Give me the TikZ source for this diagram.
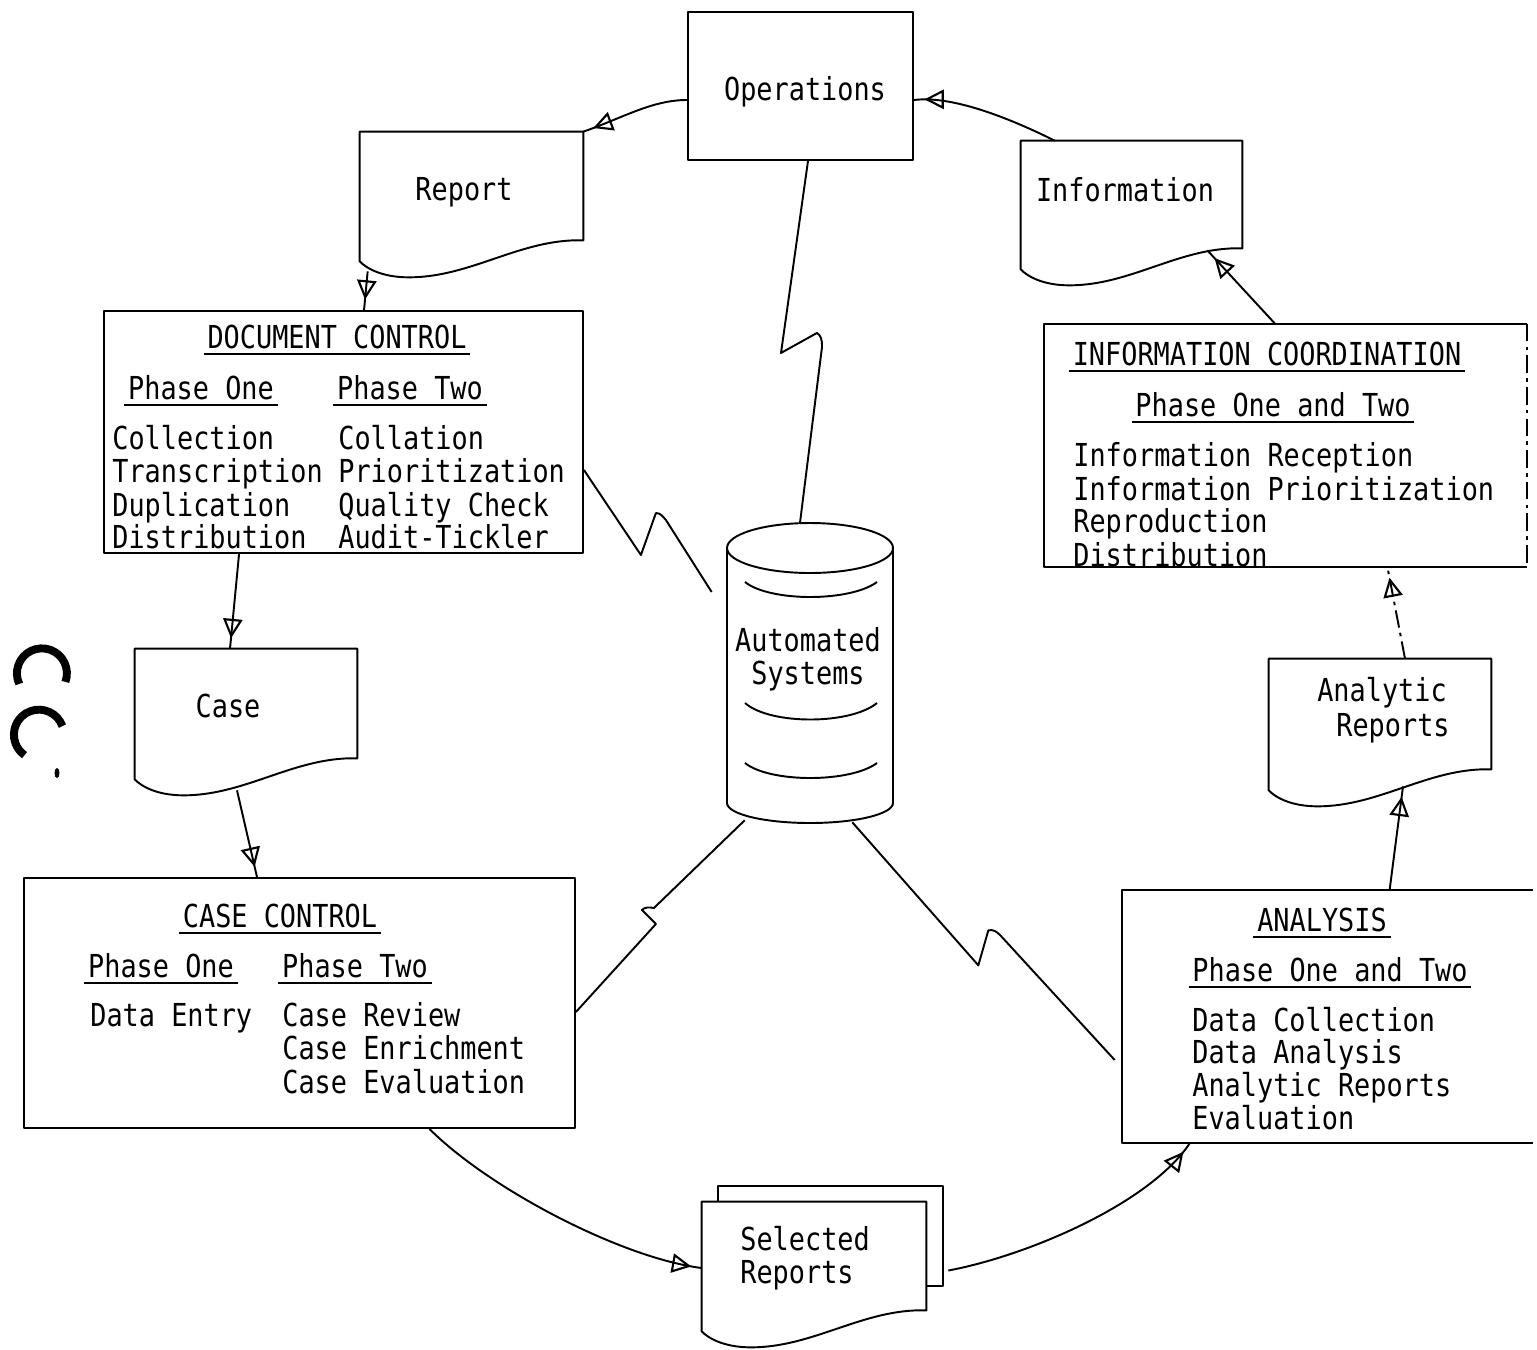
\documentclass[tikz,border=0pt]{standalone}
\usepackage{fontspec}
\newfontfamily\plotfont[FakeStretch=0.85]{DejaVu Sans Mono}
\usetikzlibrary{arrows.meta,calc,decorations.markings}

\tikzset{
  ln/.style={line width=1.1pt, line join=round},
  box/.style={ln, draw, rectangle, inner sep=0pt},
  area/.style={rectangle, inner sep=0pt},
  txt/.style={inner sep=0pt, font=\plotfont\fontsize{18}{21}\selectfont},
  ul/.style={line width=0.9pt},
  flow/.style={ln, decoration={markings,
      mark=at position -6pt with {\arrow{Triangle[open, length=11pt, width=11pt, line width=1.2pt]}}},
      postaction={decorate}},
  link/.style={ln},
  faded/.style={ln, dash pattern=on 10pt off 3pt on 2pt off 3pt},
}

% page outline with a wavy lower edge, built on a node's bounding box
\newcommand\docoutline[1]{%
  \draw[ln] (#1.north west) -- (#1.north east) -- ([yshift=0.74cm]#1.south east)
    .. controls ($([yshift=0.78cm]#1.south east)!0.28!([yshift=0.78cm]#1.south west)$)
       and ($(#1.south west)!0.5!(#1.south east)$)
    .. ($(#1.south west)!0.22!(#1.south east)$)
    .. controls ($(#1.south west)!0.1!(#1.south east)$)
       and ($([yshift=0.18cm]#1.south west)!0.03!([yshift=0.18cm]#1.south east)$)
    .. ([yshift=0.32cm]#1.south west) -- cycle;}

% underline a heading node
\newcommand\ulnode[1]{%
  \draw[ul] ([shift={(-2pt,-3pt)}]#1.base west) -- ([shift={(2pt,-3pt)}]#1.base east);}

\begin{document}
\begin{tikzpicture}[x=0.02cm, y=-0.02cm]
\fill[white] (0,0) rectangle (1537,1349);
\useasboundingbox (0,0) rectangle (1537,1349);

% ---------- Operations ----------
\node[box, minimum width=4.5cm, minimum height=2.96cm] (ops) at (800.5,86) {};
\node[txt, anchor=base] (opsT) at (805,100.5) {Operations};

% ---------- Report ----------
\node[area, minimum width=4.46cm, minimum height=2.9cm] (rep) at (471.5,204.5) {};
\docoutline{rep}
\node[txt, anchor=base] (repT) at (464,200.5) {Report};

% ---------- Information ----------
\node[area, minimum width=4.42cm, minimum height=2.88cm] (info) at (1131.5,213) {};
\docoutline{info}
\node[txt, anchor=base] (infoT) at (1125,201.5) {Information};

% ---------- Document control ----------
\node[box, minimum width=9.58cm, minimum height=4.84cm] (dc) at (343.5,432) {};
\node[txt, anchor=base] (dcT) at (337,348.5) {DOCUMENT CONTROL};
\node[txt, anchor=base] (dcA) at (201,399.5) {Phase One};
\node[txt, anchor=base] (dcB) at (410,399.5) {Phase Two};
\ulnode{dcT}\ulnode{dcA}\ulnode{dcB}
\node[txt, anchor=base west] (dc1) at (112,449.5) {Collection};
\node[txt, anchor=base west] (dc2) at (112,482.5) {Transcription};
\node[txt, anchor=base west] (dc3) at (112,516.5) {Duplication};
\node[txt, anchor=base west] (dc4) at (112,548.5) {Distribution};
\node[txt, anchor=base west] (dc5) at (338,449.5) {Collation};
\node[txt, anchor=base west] (dc6) at (338,482.5) {Prioritization};
\node[txt, anchor=base west] (dc7) at (338,516.5) {Quality Check};
\node[txt, anchor=base west] (dc8) at (338,548.5) {Audit-Tickler};

% ---------- Case ----------
\node[area, minimum width=4.44cm, minimum height=2.92cm] (case) at (246,722) {};
\docoutline{case}
\node[txt, anchor=base] (caseT) at (228,717.5) {Case};

% ---------- Case control ----------
\node[box, minimum width=11.02cm, minimum height=5cm] (cc) at (299.5,1003) {};
\node[txt, anchor=base] (ccT) at (280,927.5) {CASE CONTROL};
\node[txt, anchor=base] (ccA) at (161,977.5) {Phase One};
\node[txt, anchor=base] (ccB) at (355,977.5) {Phase Two};
\ulnode{ccT}\ulnode{ccA}\ulnode{ccB}
\node[txt, anchor=base west] (cc1) at (90,1026.5) {Data Entry};
\node[txt, anchor=base west] (cc2) at (282,1026.5) {Case Review};
\node[txt, anchor=base west] (cc3) at (282,1059.5) {Case Enrichment};
\node[txt, anchor=base west] (cc4) at (282,1093.5) {Case Evaluation};

% ---------- Selected reports (two stacked pages) ----------
\node[area, minimum width=4.48cm, minimum height=2.9cm] (sel) at (814,1274.5) {};
\draw[ln] ([xshift=0.32cm]sel.north west) -- ++(0,-16) -- ++(225,0) -- ++(0,100) -- ++(-17,0);
\docoutline{sel}
\node[txt, anchor=base west] (selA) at (740,1250.5) {Selected};
\node[txt, anchor=base west] (selB) at (740,1283.5) {Reports};

% ---------- Analysis (open on the right) ----------
\node[area, minimum width=8.22cm, minimum height=5.06cm] (ana) at (1327.5,1016.5) {};
\draw[ln] (ana.north east) -- (ana.north west) -- (ana.south west) -- (ana.south east);
\node[txt, anchor=base] (anaT) at (1322,931.5) {ANALYSIS};
\node[txt, anchor=base] (anaA) at (1330,981.5) {Phase One and Two};
\ulnode{anaT}\ulnode{anaA}
\node[txt, anchor=base west] (ana1) at (1192,1031.5) {Data Collection};
\node[txt, anchor=base west] (ana2) at (1192,1063.5) {Data Analysis};
\node[txt, anchor=base west] (ana3) at (1192,1096.5) {Analytic Reports};
\node[txt, anchor=base west] (ana4) at (1192,1129.5) {Evaluation};

% ---------- Analytic reports ----------
\node[area, minimum width=4.44cm, minimum height=2.94cm] (ar) at (1380,732.5) {};
\docoutline{ar}
\node[txt, anchor=base] (arA) at (1382,701.5) {Analytic};
\node[txt, anchor=base] (arB) at (1393,736.5) {Reports};

% ---------- Information coordination ----------
\node[area, minimum width=9.66cm, minimum height=4.86cm] (ic) at (1285.5,445.5) {};
\draw[ln] (ic.north east) -- (ic.north west) -- (ic.south west) -- (ic.south east);
\draw[faded] (ic.north east) -- (ic.south east);
\node[txt, anchor=base] (icT) at (1267,365.5) {INFORMATION COORDINATION};
\node[txt, anchor=base] (icA) at (1273,416.5) {Phase One and Two};
\ulnode{icT}\ulnode{icA}
\node[txt, anchor=base west] (ic1) at (1073,466.5) {Information Reception};
\node[txt, anchor=base west] (ic2) at (1073,500.5) {Information Prioritization};
\node[txt, anchor=base west] (ic3) at (1073,532.5) {Reproduction};
\node[txt, anchor=base west] (ic4) at (1073,566.5) {Distribution};

% ---------- Automated systems (drum) ----------
\node[area, minimum width=3.32cm, minimum height=6cm] (cyl) at (810,673) {};
\draw[ln] (810,548) ellipse [x radius=1.66cm, y radius=0.5cm];
\draw[ln] (727,548) -- (727,803) arc[start angle=180, end angle=360, x radius=1.66cm, y radius=0.4cm] -- (893,548);
\draw[ln] (745,582) .. controls (770,602) and (850,602) .. (877,582);
\draw[ln] (745,703) .. controls (770,725) and (850,725) .. (877,703);
\draw[ln] (745,763) .. controls (770,783) and (850,783) .. (877,763);
\node[txt, anchor=base] (cylA) at (808,651.5) {Automated};
\node[txt, anchor=base] (cylB) at (808,684.5) {Systems};

% ---------- flow around the cycle ----------
\draw[flow] ([yshift=-0.28cm]ops.west) .. controls +(-35,0) and +(40,-14) .. (rep.north east);
\draw[flow] ([shift={(8,-6)}]rep.south west) -- ([xshift=5.22cm]dc.north west);
\draw[flow] ([xshift=2.72cm]dc.south west) -- ([xshift=-0.32cm]case.north);
\draw[flow] ([shift={(-9,-5)}]case.south) -- ([xshift=-0.85cm]cc.north);
\draw[flow] ([xshift=2.6cm]cc.south) .. controls +(60,60) and +(-80,-10) .. ([yshift=0.13cm]sel.west);
\draw[flow] ([shift={(22,-4)}]sel.east) .. controls +(80,-15) and +(-40,60) .. ([xshift=1.36cm]ana.south west);
\draw[flow] ([xshift=5.36cm]ana.north west) -- ([shift={(23,-20)}]ar.south);
\draw[flow, dash pattern=on 10pt off 3pt on 2pt off 3pt] ([xshift=0.5cm]ar.north) -- ([xshift=2.04cm]ic.south);
\draw[flow] ([xshift=-0.21cm]ic.north) -- ([shift={(-35,-35)}]info.south east);
\draw[flow] ([xshift=0.68cm]info.north west) .. controls +(-40,-20) and +(40,-5) .. ([yshift=-0.28cm]ops.east);

% ---------- communication links to the drum ----------
\draw[link] ([xshift=0.15cm]ops.south) -- ++(-27,192) -- ++(36,-20)
  .. controls +(4,3) and +(0,-8) .. ++(5,14) -- ([xshift=-0.2cm]cyl.north);
\draw[link] ([yshift=-0.76cm]dc.east) -- ++(57,85) -- ++(15,-42)
  .. controls +(5,0) and +(-3,-3) .. ++(10,7) -- ([shift={(-15,-81)}]cyl.west);
\draw[link] ([yshift=-0.18cm]cc.east) -- ++(80,-88) -- ++(-14,-14)
  .. controls +(3,-3) and +(-5,-1) .. ++(12,-2) -- ([shift={(18,-3)}]cyl.south west);
\draw[link] ([shift={(-41,-1)}]cyl.south east) -- ++(126,143) -- ++(10,-35)
  .. controls +(5,-1) and +(-4,-4) .. ++(12,5) -- ([shift={(-7,43.5)}]ana.west);

% ---------- binder-hole marks at the left margin ----------
\draw[line width=4.5pt] (65.4,681.9) arc[start angle=-20, end angle=205, radius=0.5cm];
\draw[line width=4.5pt] (62.4,726.1) arc[start angle=20, end angle=235, radius=0.5cm];
\fill (57,773) ellipse [x radius=0.05cm, y radius=0.1cm];
\end{tikzpicture}
\end{document}
